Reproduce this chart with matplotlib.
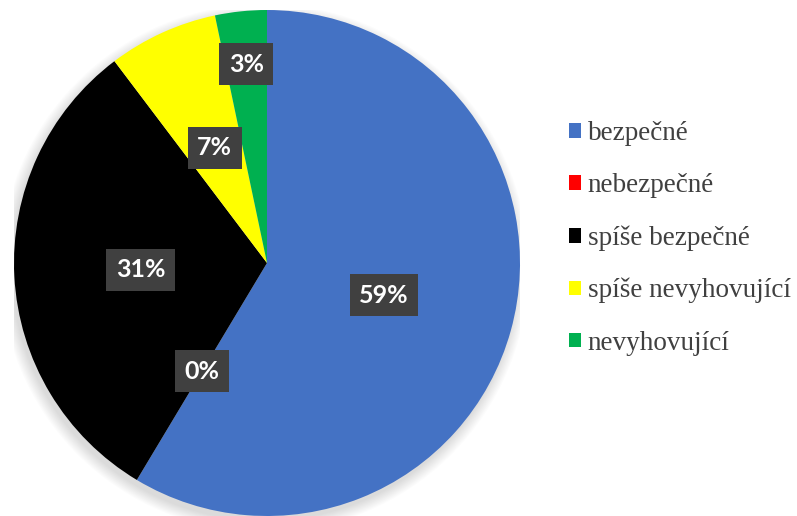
import numpy as np
import matplotlib.pyplot as plt

# share of answers (%)
categories = ['bezpečné', 'nebezpečné', 'spíše bezpečné', 'spíše nevyhovující', 'nevyhovující']
values = [58.6, 0.0, 31.1, 7.0, 3.3]
colors = ['#4472c4', '#ff0000', '#000000', '#ffff00', '#00b050']
# how far from the centre each percentage box sits
label_dist = [0.48, 0.50, 0.50, 0.50, 0.79]

fig = plt.figure(figsize=(7.97, 5.16), dpi=100)
fig.patch.set_facecolor('white')
ax = fig.add_axes([14 / 797, 0.0, 506 / 797, 506 / 516])

# soft shadow under the pie
for i in range(12):
    r = 1.0 + 0.004 * i
    ax.add_patch(plt.Circle((-0.01, -0.02), r, color='black', alpha=0.012, lw=0, zorder=0))

wedges, _ = ax.pie(values, colors=colors, startangle=90, counterclock=False,
                   radius=1.0, wedgeprops=dict(linewidth=0))

for w, v, d in zip(wedges, values, label_dist):
    ang = np.deg2rad((w.theta1 + w.theta2) / 2)
    ax.text(d * np.cos(ang), d * np.sin(ang), f'{v:.0f}%',
            ha='center', va='center', color='white', fontsize=18,
            fontweight='bold', family='Lato',
            bbox=dict(boxstyle='square,pad=0.38', fc='#404040', ec='none'))

ax.set_xlim(-1, 1)
ax.set_ylim(-1, 1)
ax.set_aspect('equal')
ax.axis('off')

leg = fig.legend(wedges, categories, loc='center left', bbox_to_anchor=(0.683, 0.538),
                 frameon=False, prop={'family': 'Liberation Serif', 'size': 19.5},
                 handlelength=0.45, handleheight=0.45, handletextpad=0.25,
                 labelspacing=1.0, labelcolor='#404040')

fig.savefig('out.png', dpi=100)
